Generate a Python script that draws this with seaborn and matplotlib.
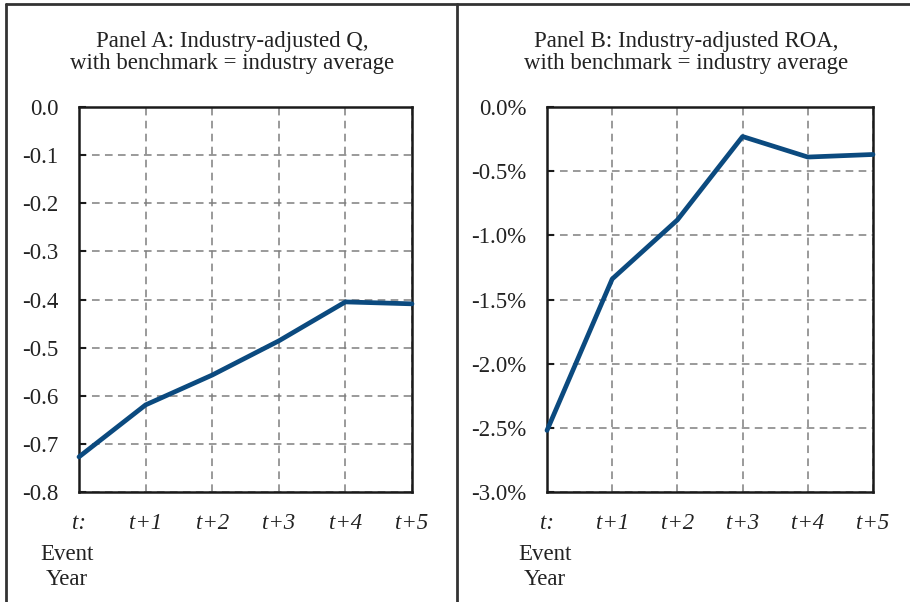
import numpy as np
import pandas as pd
import matplotlib
matplotlib.use("Agg")
import matplotlib.pyplot as plt
from matplotlib.lines import Line2D
from matplotlib.ticker import FuncFormatter
import seaborn as sns

sns.set_theme(style="white")
plt.rcParams["font.family"] = ["Liberation Serif", "DejaVu Serif"]

event_years = ["t:", "t+1", "t+2", "t+3", "t+4", "t+5"]
q_adjusted = [-0.727, -0.619, -0.557, -0.486, -0.405, -0.409]
roa_adjusted = [-2.52, -1.34, -0.88, -0.23, -0.39, -0.37]

q_ticks = [0.0, -0.1, -0.2, -0.3, -0.4, -0.5, -0.6, -0.7, -0.8]
roa_ticks = [0.0, -0.5, -1.0, -1.5, -2.0, -2.5, -3.0]

line_color = "#0B4A7F"
grid_color = "#7f7f7f"

W, H = 910, 602
fig = plt.figure(figsize=(W / 100, H / 100), dpi=100)


def fx(px):
    return px / W


def fy(py):
    return 1 - py / H


ax_a = fig.add_axes([fx(79), fy(492), fx(412) - fx(79), fy(107) - fy(492)])
ax_b = fig.add_axes([fx(547), fy(492), fx(873) - fx(547), fy(107) - fy(492)])

df_a = pd.DataFrame({"pos": np.arange(len(event_years)), "value": q_adjusted})
df_b = pd.DataFrame({"pos": np.arange(len(event_years)), "value": roa_adjusted})

sns.lineplot(data=df_a, x="pos", y="value", ax=ax_a, color=line_color,
             linewidth=3.4, zorder=3, clip_on=False)
sns.lineplot(data=df_b, x="pos", y="value", ax=ax_b, color=line_color,
             linewidth=3.4, zorder=3, clip_on=False)

fs = 16.5

for ax, ticks, fmt in [
    (ax_a, q_ticks, lambda v, p: f"{v:.1f}".replace("-0.0", "0.0")),
    (ax_b, roa_ticks, lambda v, p: f"{v:.1f}%".replace("-0.0", "0.0")),
]:
    ax.set_xlim(0, len(event_years) - 1)
    ax.set_ylim(min(ticks), max(ticks))
    ax.set_yticks(ticks)
    ax.yaxis.set_major_formatter(FuncFormatter(fmt))
    ax.set_xticks(np.arange(len(event_years)))
    ax.set_xticklabels(event_years, fontstyle="italic")
    ax.set_xlabel("")
    ax.set_ylabel("")
    ax.grid(True, color=grid_color, linestyle=(0, (5, 3.5)), linewidth=1.1)
    for side in ["left", "right", "top", "bottom"]:
        ax.spines[side].set_visible(True)
        ax.spines[side].set_color("#1a1a1a")
        ax.spines[side].set_linewidth(1.8)
    ax.tick_params(axis="y", direction="in", length=5, width=1.5,
                   color="#1a1a1a", left=True, pad=15, labelsize=fs,
                   labelcolor="#222222")
    ax.tick_params(axis="x", length=0, pad=15, labelsize=fs,
                   labelcolor="#222222")

title_kw = dict(ha="center", va="center", fontsize=fs, color="#222222")
fig.text(fx(232), fy(42), "Panel A: Industry-adjusted Q,", **title_kw)
fig.text(fx(232), fy(64), "with benchmark = industry average", **title_kw)
fig.text(fx(686), fy(42), "Panel B: Industry-adjusted ROA,", **title_kw)
fig.text(fx(686), fy(64), "with benchmark = industry average", **title_kw)

fig.text(fx(67), fy(567), "Event\nYear", ha="center", va="center",
         fontsize=fs, color="#222222", linespacing=1.2)
fig.text(fx(545), fy(567), "Event\nYear", ha="center", va="center",
         fontsize=fs, color="#222222", linespacing=1.2)

frame_kw = dict(color="#333333", linewidth=2.0)
fig.add_artist(Line2D([fx(6), 1.0], [fy(4), fy(4)], **frame_kw))
fig.add_artist(Line2D([fx(6), fx(6)], [0.0, fy(4)], **frame_kw))
fig.add_artist(Line2D([fx(457), fx(457)], [0.0, fy(4)], **frame_kw))

fig.savefig("out.png", dpi=100)
